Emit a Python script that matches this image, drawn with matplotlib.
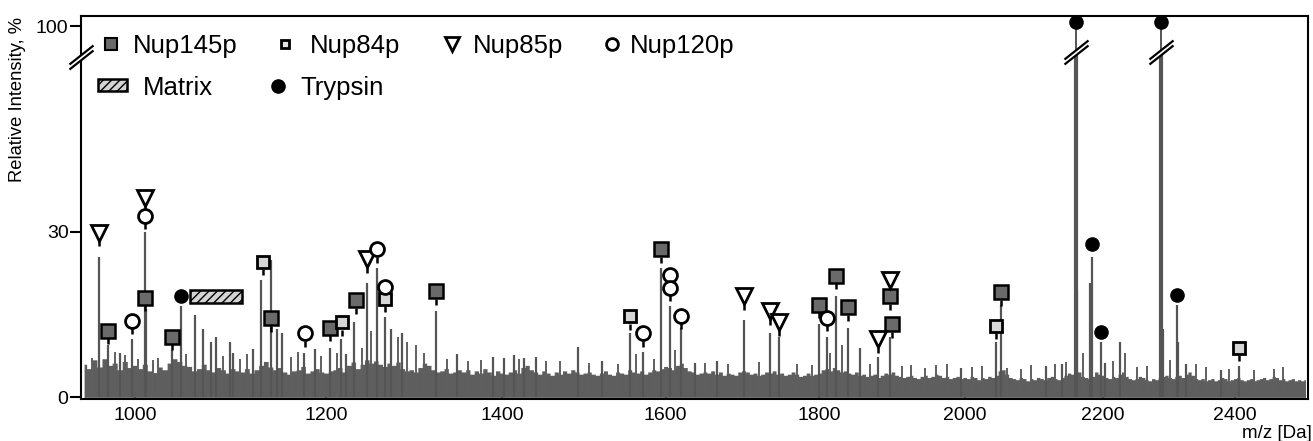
import matplotlib.pyplot as plt
import numpy as np
from matplotlib.path import Path
from matplotlib.patches import Rectangle
from matplotlib.transforms import offset_copy

plt.rcParams['font.family'] = ['Liberation Sans', 'DejaVu Sans']
plt.rcParams['hatch.linewidth'] = 1.0

# background noise of the spectrum, one value every 5 Da from 950 Da
bg_start, bg_step = 950, 5
bg_int = [
    6.0, 5.2, 6.8, 5.5, 7.0, 5.8, 6.2, 5.0, 6.5, 5.4, 5.8,
    5.2, 6.0, 4.8, 4.5, 5.5, 5.0, 6.2, 7.0, 6.5, 5.8,
    5.6, 4.8, 5.2, 6.0, 5.0, 4.6, 5.4, 5.0, 4.4, 5.2,
    4.8, 4.6, 5.2, 4.4, 5.0, 5.8, 6.5, 5.5, 5.0, 5.4,
    4.6, 4.2, 4.8, 5.0, 5.6, 4.4, 4.8, 5.2, 4.6, 4.4,
    4.8, 5.0, 5.4, 4.6, 5.8, 6.4, 5.2, 6.0, 6.8, 6.2,
    6.6, 6.0, 5.6, 6.2, 5.8, 6.4, 5.2, 4.8, 5.0, 4.6,
    5.4, 6.2, 5.8, 5.0, 4.6, 4.8, 5.2, 4.4, 4.6, 5.0,
    4.6, 5.0, 4.2, 4.8, 4.4, 5.2, 4.6, 4.0, 4.8, 4.4,
    4.2, 4.6, 5.0, 4.4, 5.4, 5.8, 5.0, 4.6, 4.2, 4.8,
    4.4, 4.0, 4.6, 4.2, 4.8, 4.4, 5.0, 4.6, 4.2, 4.4,
    4.6, 4.2, 4.0, 4.4, 4.8, 4.2, 4.0, 4.6, 4.4, 4.2,
    5.0, 4.6, 4.4, 4.8, 4.2, 4.6, 5.0, 4.8, 5.2, 5.6,
    5.4, 5.0, 5.8, 6.2, 5.4, 4.8, 4.6, 4.2, 4.4, 4.6,
    4.4, 4.8, 4.2, 4.6, 4.0, 4.4, 4.2, 4.0, 4.6, 4.8,
    4.6, 4.2, 4.4, 4.0, 4.2, 4.6, 4.4, 4.8, 4.2, 4.4,
    4.0, 4.2, 4.6, 4.2, 3.8, 4.0, 4.4, 4.0, 4.2, 4.4,
    5.0, 5.2, 4.8, 5.4, 5.0, 4.6, 4.8, 4.4, 4.2, 4.6,
    4.0, 4.2, 3.8, 4.0, 4.2, 3.6, 4.0, 4.4, 4.2, 4.6,
    4.0, 3.8, 3.6, 3.8, 4.0, 3.6, 3.4, 3.8, 4.0, 3.6,
    3.8, 4.2, 4.0, 3.6, 3.8, 3.4, 3.6, 3.8, 3.4, 3.6,
    3.4, 3.8, 3.6, 3.2, 3.6, 3.4, 3.8, 3.6, 4.0, 4.8,
    5.0, 4.2, 3.6, 3.4, 3.2, 3.6, 3.4, 3.0, 3.4, 3.2,
    3.6, 3.4, 3.2, 3.6, 3.8, 3.4, 3.2, 3.6, 4.0, 4.4,
    4.2, 4.8, 4.6, 3.8, 3.6, 3.4, 3.8, 4.6, 4.2, 4.0,
    3.6, 3.4, 3.8, 3.6, 4.2, 4.6, 3.8, 3.4, 3.2, 3.4,
    3.8, 3.6, 3.2, 3.0, 3.4, 3.2, 3.6, 3.8, 4.0, 3.6,
    3.4, 3.8, 4.0, 3.6, 4.2, 4.6, 4.0, 3.4, 3.2, 3.4,
    3.0, 3.2, 3.4, 3.0, 3.2, 3.6, 3.4, 3.0, 3.2, 3.4,
    3.6, 3.2, 3.0, 3.2, 3.4, 3.0, 3.2, 3.4, 3.6, 3.2,
    3.4, 3.8, 3.6, 3.2, 3.4, 3.0, 3.2, 3.4, 3.0, 3.2,
    3.0, 3.2,
]
bg_mz = bg_start + bg_step * np.arange(len(bg_int))

# individual peaks (m/z, relative intensity)
peak_mz = [965, 973, 985, 997, 1010, 1011, 1037, 1047, 1061, 1069, 1078, 1083,
           1097, 1100, 1121, 1130, 1141, 1147, 1152, 1176, 1188, 1204, 1216,
           1222, 1231, 1245, 1256, 1265, 1272, 1285, 1323, 1347, 1389, 1403,
           1414, 1426, 1440, 1491, 1521, 1556, 1572, 1594, 1605, 1620, 1638,
           1665, 1700, 1734, 1747, 1800, 1810, 1823, 1839, 1855, 1880, 1896,
           1995, 2045, 2052, 2116, 2140, 2160, 2162, 2181, 2184, 2197, 2203,
           2225, 2287, 2289, 2311, 2313, 2324, 2378, 2406]
peak_int = [25.5, 9.5, 8.0, 10.5, 30.0, 16.0, 8.5, 16.5, 15.0, 12.3, 10.1, 11.0,
            10.0, 8.1, 8.7, 21.3, 24.8, 12.3, 11.7, 8.1, 8.7, 9.0, 10.5,
            7.8, 13.7, 20.8, 23.5, 14.6, 12.3, 11.7, 15.6, 7.8, 7.4, 7.2,
            7.6, 7.2, 7.4, 9.2, 6.5, 11.7, 8.3, 23.5, 16.5, 12.6, 6.3,
            6.5, 14.1, 11.7, 11.0, 13.2, 11.0, 18.3, 12.6, 9.0, 7.4, 11.0,
            5.4, 10.0, 16.8, 5.6, 6.1, 100.0, 19.5, 20.8, 25.5, 10.1, 6.3,
            10.0, 100.0, 12.3, 16.8, 10.1, 6.1, 5.0, 5.6]

# small spikes sticking out of the noise
spike_mz = [958, 980, 990, 1003, 1018, 1023, 1052, 1090, 1108, 1115, 1162, 1170,
            1195, 1212, 1240, 1250, 1280, 1290, 1300, 1310, 1336, 1360, 1375,
            1420, 1452, 1470, 1505, 1540, 1563, 1585, 1612, 1650, 1680, 1720,
            1770, 1790, 1815, 1830, 1868, 1912, 1925, 1945, 1960, 1975, 2010,
            2025, 2060, 2080, 2095, 2130, 2145, 2170, 2215, 2232, 2250, 2265,
            2300, 2340, 2355, 2390, 2430, 2460, 2475]
spike_int = [7.2, 8.2, 7.6, 7.0, 6.8, 7.2, 7.8, 7.5, 7.0, 7.8, 7.4, 8.2,
             7.5, 8.0, 9.0, 12.0, 11.0, 10.0, 9.5, 8.0, 7.0, 6.6, 6.8,
             6.9, 6.5, 6.6, 6.2, 6.0, 7.8, 7.0, 8.5, 6.2, 6.0, 6.4,
             6.0, 5.8, 8.0, 9.5, 6.0, 5.6, 5.8, 5.4, 5.8, 6.0, 5.5,
             5.6, 5.4, 5.2, 5.8, 6.0, 6.4, 8.0, 6.5, 8.0, 5.5, 5.6,
             6.8, 6.0, 5.5, 5.2, 5.0, 5.2, 5.5]

# assignments (m/z, marker height)
nup145_mz = [973, 1010, 1037, 1141, 1204, 1233, 1323, 1594, 1800, 1823, 1839, 1896, 1899, 2052]
nup145_y = [12.1, 18.0, 11.0, 14.3, 12.6, 17.6, 19.2, 26.8, 16.8, 22.0, 16.3, 18.3, 13.2, 19.0]
nup84_mz = [1132, 1218, 1265, 1556, 2045, 2406]
nup84_y = [24.6, 13.6, 17.9, 14.7, 13.0, 9.0]
nup85_mz = [965, 1010, 1245, 1700, 1734, 1747, 1880, 1896]
nup85_y = [29.8, 36.2, 25.0, 18.3, 15.6, 13.6, 10.5, 21.3]
nup120_mz = [997, 1010, 1177, 1256, 1265, 1572, 1605, 1605, 1620, 1810]
nup120_y = [13.9, 32.9, 11.6, 26.8, 20.0, 11.6, 22.2, 19.9, 14.8, 14.4]
trypsin_mz = [1047, 2160, 2184, 2197, 2287, 2311]
trypsin_y = [18.3, 106.0, 27.7, 11.9, 106.0, 18.6]
matrix_range = (1056, 1110)
matrix_y = 18.3

Y_BRK = 62.0
K = 0.137
PEAK_BRK = 66.0


def fwd(v):
    v = np.asarray(v, float)
    return np.where(v <= Y_BRK, v, Y_BRK + (v - Y_BRK) * K)


def inv(p):
    p = np.asarray(p, float)
    return np.where(p <= Y_BRK, p, Y_BRK + (p - Y_BRK) / K)


fig = plt.figure(figsize=(13.13, 4.41), dpi=100)
ax = fig.add_axes([81 / 1313, 42 / 441, 1227 / 1313, 383 / 441])
ax.set_xscale('function', functions=(np.sqrt, np.square))
ax.set_yscale('function', functions=(fwd, inv))
ax.set_xlim(947, 2514)
ax.set_ylim(-0.3, 113.8)

spec = '#5e5e5e'
ax.fill_between(bg_mz, bg_int, step='mid', color=spec, lw=0, zorder=2)
ax.vlines(spike_mz, 0, spike_int, color='#606060', lw=1.4, zorder=2)

big_mz = [m for m, h in zip(peak_mz, peak_int) if h >= 100]
big_int = [h for h in peak_int if h >= 100]
small_mz = [m for m, h in zip(peak_mz, peak_int) if h < 100]
small_int = [h for h in peak_int if h < 100]
ax.vlines(small_mz, 0, small_int, color='#555555', lw=1.6, zorder=2)
# off-scale peaks: thick below the break, thin above it
ax.vlines(big_mz, 0, PEAK_BRK, color='#555555', lw=3.0, zorder=2)
ax.vlines(big_mz, PEAK_BRK, big_int, color='#555555', lw=1.4, zorder=2)

# breaks on the two big trypsin peaks and on the y axis
lines_path = Path([(-12, -12), (12, 7), (-12, -7), (12, 12)],
                  [Path.MOVETO, Path.LINETO, Path.MOVETO, Path.LINETO])
fill_path = Path([(-12, -12), (12, 7), (12, 12), (-12, -7), (-12, -12)], closed=True)
for xs, ys, tr in [(big_mz, [PEAK_BRK] * len(big_mz), ax.transData),
                   ([0], [61.7], ax.get_yaxis_transform())]:
    ax.plot(xs, ys, ls='none', marker=fill_path, ms=17.3, mfc='white', mec='white',
            mew=0, transform=tr, clip_on=False, zorder=6)
    ax.plot(xs, ys, ls='none', marker=lines_path, ms=17.3, mec='black', mew=1.6,
            transform=tr, clip_on=False, zorder=7)

stem_tr = offset_copy(ax.transData, fig=fig, y=-7.5, units='points')


def mark(xs, ys, **kw):
    ax.plot(xs, ys, ls='none', clip_on=False, zorder=5, **kw)
    ax.plot(xs, ys, ls='none', marker='|', ms=4, mew=1.8, color='black',
            transform=stem_tr, zorder=4)


mark(nup145_mz, nup145_y, marker='s', ms=10, mfc='#6a6a6a', mec='black', mew=1.8)
mark(nup84_mz, nup84_y, marker='s', ms=9, mfc='#d6d6d6', mec='black', mew=2)
mark(nup85_mz, nup85_y, marker='v', ms=11, mfc='white', mec='black', mew=2)
mark(nup120_mz, nup120_y, marker='o', ms=10, mfc='white', mec='black', mew=2)
ax.plot(trypsin_mz, trypsin_y, ls='none', marker='o', ms=9.5, color='black',
        clip_on=False, zorder=5)

ax.add_patch(Rectangle((matrix_range[0], matrix_y - 1.2), matrix_range[1] - matrix_range[0], 2.4,
                       facecolor='#d4d4d4', edgecolor='black', lw=1.8, hatch='////', zorder=5))

# legend drawn by hand
lt = ax.transAxes
r1, r2 = 0.9256, 0.817
fs = 18.5
ax.plot([0.0244], [r1], 's', ms=8, mfc='#6a6a6a', mec='black', mew=1.5, transform=lt)
ax.text(0.0424, 0.9034, 'Nup145p', fontsize=fs, transform=lt, va='baseline')
ax.plot([0.1663], [r1], 's', ms=6, mfc='#e4e4e4', mec='black', mew=2, transform=lt)
ax.text(0.1866, 0.9034, 'Nup84p', fontsize=fs, transform=lt, va='baseline')
ax.plot([0.3024], [r1], 'v', ms=10, mfc='white', mec='black', mew=2, transform=lt)
ax.text(0.3195, 0.9034, 'Nup85p', fontsize=fs, transform=lt, va='baseline')
ax.plot([0.4328], [r1], 'o', ms=8.5, mfc='white', mec='black', mew=2, transform=lt)
ax.text(0.4474, 0.9034, 'Nup120p', fontsize=fs, transform=lt, va='baseline')
ax.add_patch(Rectangle((0.0139, 0.804), 0.0236, 0.0313, transform=lt, facecolor='#d4d4d4',
                       edgecolor='black', lw=1.8, hatch='////'))
ax.text(0.0505, 0.7937, 'Matrix', fontsize=fs, transform=lt, va='baseline')
ax.plot([0.1606], [r2], 'o', ms=9.5, color='black', transform=lt)
ax.text(0.1785, 0.7937, 'Trypsin', fontsize=fs, transform=lt, va='baseline')

# axes styling
for s in ax.spines.values():
    s.set_linewidth(1.5)
ax.set_yticks([0, 30, 100])
ax.set_yticklabels(['0', '30', '100'])
ax.set_xticks([1000, 1200, 1400, 1600, 1800, 2000, 2200, 2400])
ax.set_xticklabels(['1000', '1200', '1400', '1600', '1800', '2000', '2200', '2400'])
ax.minorticks_off()
ax.tick_params(axis='y', direction='out', length=8, width=1.5, pad=1, labelsize=14)
ax.tick_params(axis='x', direction='in', length=3, width=1.5, pad=6, labelsize=14)

fig.text(18 / 1313, 1 - 100 / 441, 'Relative Intensity, %', rotation=90,
         ha='center', va='center', fontsize=13.2)
fig.text(1312 / 1313, 1 - 433 / 441, 'm/z [Da]', ha='right', va='center', fontsize=13.5)

fig.savefig('out.png', dpi=100)
